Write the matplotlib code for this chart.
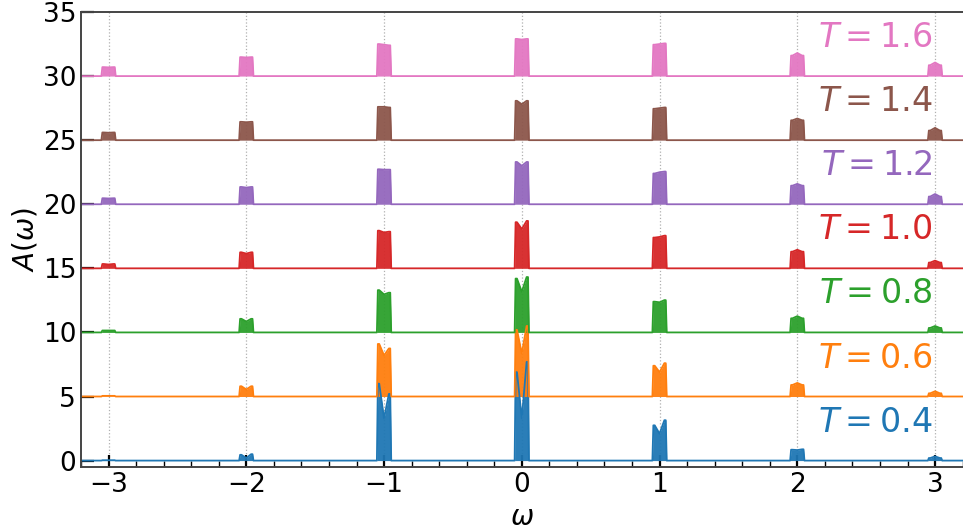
import matplotlib
matplotlib.use("Agg")
import matplotlib.pyplot as plt
from matplotlib.ticker import MultipleLocator
import numpy as np

# temperatures, curve offsets, colours
temps = [0.4, 0.6, 0.8, 1.0, 1.2, 1.4, 1.6]
offsets = [0, 5, 10, 15, 20, 25, 30]
colors = ["tab:blue", "tab:orange", "tab:green", "tab:red",
          "tab:purple", "tab:brown", "tab:pink"]

# band centres (omega)
centers = [-3, -2, -1, 0, 1, 2, 3]

# (left edge height, centre height, right edge height) per band
peaks = {
    0.4: [(0.03, 0.03, 0.03), (0.45, 0.2, 0.5), (6.0, 3.3, 5.2), (6.9, 3.3, 7.7),
          (2.75, 2.1, 3.15), (0.85, 0.82, 0.88), (0.2, 0.33, 0.2)],
    0.6: [(0.05, 0.05, 0.05), (0.8, 0.55, 0.8), (4.1, 3.2, 3.75), (5.2, 3.36, 5.5),
          (2.4, 1.9, 2.6), (0.9, 1.06, 0.9), (0.25, 0.41, 0.25)],
    0.8: [(0.15, 0.15, 0.15), (1.06, 0.85, 1.06), (3.3, 2.97, 3.1), (4.2, 3.17, 4.32),
          (2.4, 2.35, 2.52), (1.1, 1.27, 1.1), (0.35, 0.5, 0.35)],
    1.0: [(0.34, 0.3, 0.34), (1.25, 1.15, 1.25), (2.94, 2.8, 2.86), (3.6, 3.07, 3.7),
          (2.4, 2.45, 2.55), (1.3, 1.45, 1.3), (0.45, 0.6, 0.45)],
    1.2: [(0.47, 0.45, 0.47), (1.35, 1.3, 1.35), (2.73, 2.7, 2.7), (3.3, 3.0, 3.3),
          (2.4, 2.5, 2.55), (1.45, 1.59, 1.45), (0.6, 0.8, 0.6)],
    1.4: [(0.6, 0.58, 0.6), (1.43, 1.4, 1.43), (2.6, 2.6, 2.55), (3.07, 2.8, 3.07),
          (2.45, 2.5, 2.55), (1.55, 1.69, 1.55), (0.75, 0.96, 0.75)],
    1.6: [(0.7, 0.68, 0.7), (1.48, 1.45, 1.48), (2.5, 2.45, 2.4), (2.9, 2.85, 2.9),
          (2.45, 2.5, 2.55), (1.6, 1.8, 1.6), (0.85, 1.06, 0.85)],
}

band_dx = [-0.052, -0.045, -0.035, 0.0, 0.035, 0.045, 0.052]

xmin, xmax = -3.2, 3.2

fig = plt.figure(figsize=(9.63, 5.31), dpi=100)
ax = fig.add_axes([81/963, 1-467/531, (962.6-81)/963, (467-12)/531])

for T, off, col in zip(temps, offsets, colors):
    xs = [xmin]
    ys = [0.0]
    for c, (hl, hc, hr) in zip(centers, peaks[T]):
        xs += [c + d for d in band_dx]
        ys += [0.0, hl, hl, hc, hr, hr, 0.0]
    xs.append(xmax)
    ys.append(0.0)
    xs = np.array(xs)
    ys = np.array(ys) + off
    ax.fill_between(xs, off, ys, color=col, lw=0, alpha=0.95)
    ax.plot(xs, ys, color=col, lw=1.3)
    ax.text(2.98, off + 3, r"$T = %.1f$" % T, color=col, fontsize=24,
            ha="right", va="center")

ax.set_xlim(xmin, xmax)
ax.set_ylim(-0.5, 35)
ax.xaxis.set_major_locator(MultipleLocator(1))
ax.xaxis.set_minor_locator(MultipleLocator(0.2))
ax.yaxis.set_major_locator(MultipleLocator(5))
ax.tick_params(which="major", direction="in", length=9, width=1.6, labelsize=19,
               color="black")
ax.tick_params(which="minor", direction="in", length=4, width=1.0, color="black")
ax.grid(axis="x", which="major", linestyle=":", color="#b0b0b0", lw=0.9)
ax.set_axisbelow(True)

for s in ["left", "top", "bottom"]:
    ax.spines[s].set_color("#444444")
    ax.spines[s].set_linewidth(1.4)
ax.spines["right"].set_visible(False)

ax.set_xlabel(r"$\omega$", fontsize=20, labelpad=4)
ax.set_ylabel(r"$A(\omega)$", fontsize=20, labelpad=2)

fig.savefig("out.png", dpi=100)
